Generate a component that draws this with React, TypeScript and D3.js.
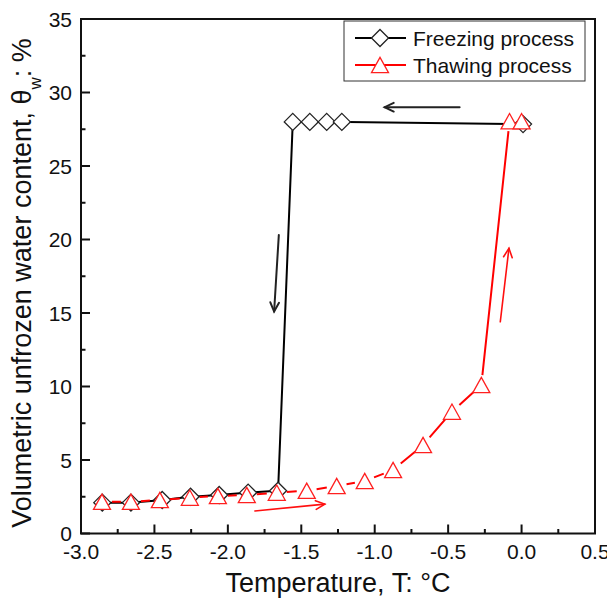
import React from "react";
import * as d3 from "d3";

const freezeT = [-2.855, -2.66, -2.447, -2.254, -2.059, -1.862, -1.658, -1.558, -1.442, -1.327, -1.224, 0.01];
const freezeW = [2.1, 2.1, 2.28, 2.5, 2.62, 2.78, 2.91, 28.0, 28.0, 28.0, 28.0, 27.85];
const thawT = [-2.857, -2.66, -2.463, -2.259, -2.068, -1.871, -1.667, -1.463, -1.259, -1.068, -0.875, -0.671, -0.474, -0.274, -0.082, 0.0];
const thawW = [2.16, 2.16, 2.28, 2.44, 2.55, 2.62, 2.78, 2.91, 3.23, 3.57, 4.32, 6.02, 8.29, 10.1, 28.05, 28.05];
const xTicks = [-3.0, -2.5, -2.0, -1.5, -1.0, -0.5, 0.0, 0.5];
const yTicks = [0, 5, 10, 15, 20, 25, 30, 35];
const seriesNames = ["Freezing process", "Thawing process"];
// arrows: [x1, y1, x2, y2] in data units
const blackArrows = [
  [-0.422, 29.0, -0.932, 29.0],
  [-1.653, 20.3, -1.685, 15.1],
];
const redArrows = [
  [-1.816, 1.53, -1.34, 2.0],
  [-0.145, 14.4, -0.086, 19.4],
];

const W = 607;
const H = 604;
const L = 81, R = 595, T = 19, B = 533.5;
const FONT = "Arial, 'Liberation Sans', Helvetica, sans-serif";

const x = d3.scaleLinear().domain([-3, 0.5]).range([L, R]);
const y = d3.scaleLinear().domain([0, 35]).range([B, T]);

function gappedSegments(xs: number[], ys: number[], gap: number) {
  const segs: string[] = [];
  for (let i = 0; i < xs.length - 1; i++) {
    const x1 = x(xs[i]), y1 = y(ys[i]), x2 = x(xs[i + 1]), y2 = y(ys[i + 1]);
    const dx = x2 - x1, dy = y2 - y1;
    const len = Math.hypot(dx, dy);
    if (len <= 2 * gap) continue;
    const ux = dx / len, uy = dy / len;
    segs.push(`M${x1 + ux * gap},${y1 + uy * gap}L${x2 - ux * gap},${y2 - uy * gap}`);
  }
  return segs.join("");
}

function diamond(cx: number, cy: number, r: number) {
  return `M${cx},${cy - r}L${cx + r},${cy}L${cx},${cy + r}L${cx - r},${cy}Z`;
}
function triangle(cx: number, cy: number, r: number) {
  const h = r * 1.8;
  return `M${cx},${cy - h / 2}L${cx + r},${cy + h / 2}L${cx - r},${cy + h / 2}Z`;
}

function Arrow({ a, color, w }: { a: number[]; color: string; w: number }) {
  const x1 = x(a[0]), y1 = y(a[1]), x2 = x(a[2]), y2 = y(a[3]);
  const ang = Math.atan2(y2 - y1, x2 - x1);
  const hl = 10, ha = 0.45;
  const p1 = [x2 - hl * Math.cos(ang - ha), y2 - hl * Math.sin(ang - ha)];
  const p2 = [x2 - hl * Math.cos(ang + ha), y2 - hl * Math.sin(ang + ha)];
  return (
    <g stroke={color} strokeWidth={w} fill="none" strokeLinecap="round">
      <line x1={x1} y1={y1} x2={x2} y2={y2} />
      <path d={`M${p1[0]},${p1[1]}L${x2},${y2}L${p2[0]},${p2[1]}`} />
    </g>
  );
}

export default function App() {
  const minor = d3.range(-3, 0.5001, 0.25).filter((v) => Math.abs(v * 2 - Math.round(v * 2)) > 1e-6);
  const minorY = d3.range(2.5, 35, 5);
  return (
    <svg width={W} height={H} style={{ position: "absolute", left: 0, top: 0, background: "#fff" }} fontFamily={FONT}>
      <rect x={0} y={0} width={W} height={H} fill="#fff" />
      {/* data: freezing */}
      <path d={gappedSegments(freezeT, freezeW, 5)} stroke="#000" strokeWidth={2} fill="none" />
      {freezeT.map((t, i) => (
        <path key={"f" + i} d={diamond(x(t), y(freezeW[i]), 8.5)} fill="#fff" stroke="#222" strokeWidth={1.3} />
      ))}
      {/* data: thawing */}
      <path d={gappedSegments(thawT, thawW, 10)} stroke="#ff0000" strokeWidth={2} fill="none" />
      {thawT.map((t, i) => (
        <path key={"t" + i} d={triangle(x(t), y(thawW[i]), 8.5)} fill="#fff" stroke="#ff2020" strokeWidth={1.3} />
      ))}
      {/* arrows */}
      {blackArrows.map((a, i) => <Arrow key={"ba" + i} a={a} color="#222" w={2} />)}
      {redArrows.map((a, i) => <Arrow key={"ra" + i} a={a} color="#ff1010" w={1.6} />)}
      {/* frame */}
      <rect x={L} y={T} width={R - L} height={B - T} fill="none" stroke="#111" strokeWidth={2} />
      {/* x ticks */}
      {xTicks.map((v) => (
        <g key={"xt" + v}>
          <line x1={x(v)} x2={x(v)} y1={B} y2={B - 9} stroke="#111" strokeWidth={2} />
          <text x={x(v)} y={559} fontSize={21} textAnchor="middle" fill="#111">{v.toFixed(1)}</text>
        </g>
      ))}
      {minor.map((v) => (
        <line key={"xm" + v} x1={x(v)} x2={x(v)} y1={B} y2={B - 4.5} stroke="#111" strokeWidth={2} />
      ))}
      {/* y ticks */}
      {yTicks.map((v) => (
        <g key={"yt" + v}>
          <line x1={L} x2={L + 9} y1={y(v)} y2={y(v)} stroke="#111" strokeWidth={2} />
          <text x={72} y={y(v) + 7.5} fontSize={21} textAnchor="end" fill="#111">{v}</text>
        </g>
      ))}
      {minorY.map((v) => (
        <line key={"ym" + v} x1={L} x2={L + 4.5} y1={y(v)} y2={y(v)} stroke="#111" strokeWidth={2} />
      ))}
      {/* axis titles */}
      <text x={(L + R) / 2} y={592} fontSize={27} textAnchor="middle" fill="#111">Temperature, T: °C</text>
      <text transform={`translate(31,283) rotate(-90)`} fontSize={27} textAnchor="middle" fill="#111">
        Volumetric unfrozen water content, θ<tspan fontSize={17} baselineShift="sub">w</tspan>: %
      </text>
      {/* legend */}
      <rect x={344} y={21} width={241} height={60} fill="#fff" stroke="#333" strokeWidth={1} />
      <line x1={355} x2={406} y1={38} y2={38} stroke="#000" strokeWidth={2} />
      <path d={diamond(380, 38, 8.5)} fill="#fff" stroke="#222" strokeWidth={1.3} />
      <text x={413} y={45.5} fontSize={21} fill="#111">{seriesNames[0]}</text>
      <line x1={355} x2={406} y1={65} y2={65} stroke="#ff0000" strokeWidth={2} />
      <path d={triangle(380, 65, 8.5)} fill="#fff" stroke="#ff2020" strokeWidth={1.3} />
      <text x={413} y={72.5} fontSize={21} fill="#111">{seriesNames[1]}</text>
    </svg>
  );
}
